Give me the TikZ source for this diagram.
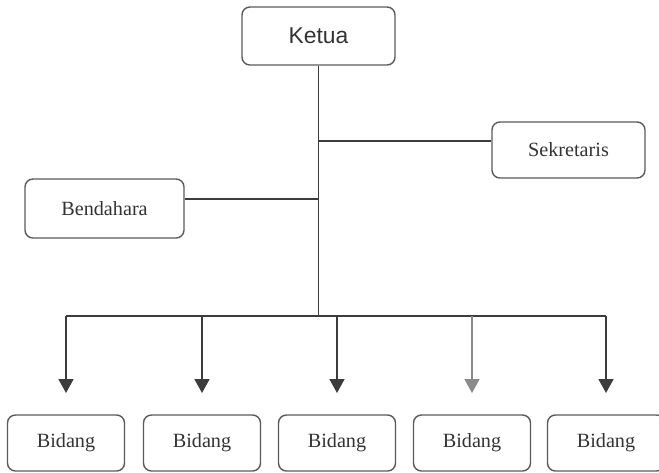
\documentclass[tikz,border=0pt]{standalone}
\usepackage{fontspec}
\setmainfont{Liberation Serif}
\newfontfamily\ketuafont{Liberation Sans}
\usepackage{xcolor}
\usepackage{tikz}
\usetikzlibrary{positioning, arrows.meta, calc}
\definecolor{linegray}{HTML}{3C3C3C}
\definecolor{boxgray}{HTML}{5A5A5A}
\definecolor{textgray}{HTML}{333333}
\definecolor{palegray}{HTML}{8A8A8A}

\begin{document}
\begin{tikzpicture}[font=\fontsize{11.5}{13}\selectfont,
  unitbox/.style={draw=boxgray, line width=0.8pt, rounded corners=4.5pt, text=textgray, inner sep=0pt},
  link/.style={linegray, line width=1pt},
  down/.style={link, -{Triangle[width=3mm, length=2.8mm]}}]
  \useasboundingbox (0,0) rectangle (13.18,-9.46);
  % top
  \node[unitbox, minimum width=3.06cm, minimum height=1.16cm, font=\ketuafont\fontsize{13}{15}\selectfont] (ketua) at (6.37,-0.72) {Ketua};
  % staff
  \node[unitbox, minimum width=3.06cm, minimum height=1.12cm] (sekretaris) at (11.37,-3.0) {Sekretaris};
  \node[unitbox, minimum width=3.18cm, minimum height=1.18cm] (bendahara) at (2.09,-4.17) {Bendahara};
  % bottom row
  \foreach \i/\x in {1/1.32, 2/4.04, 3/6.74, 4/9.44, 5/12.12} {
    \node[unitbox, minimum width=2.34cm, minimum height=1.12cm] (bidang-\i) at (\x,-8.86) {Bidang};
    \coordinate (bus-\i) at (\x,-6.32);
    \coordinate (tip-\i) at (\x,-7.86);
  }
  % joints on the trunk
  \coordinate (j-sek) at (ketua.south |- 0,-2.82);
  \coordinate (j-ben) at (ketua.south |- 0,-3.98);
  \coordinate (j-bus) at (ketua.south |- bus-1);
  \draw[link] (ketua.south) -- (j-bus);
  \draw[link] (j-sek) -- (j-sek -| sekretaris.west);
  \draw[link] (j-ben) -- (j-ben -| bendahara.east);
  \draw[link] (bus-1) -- (bus-5);
  \foreach \i in {1,2,3,5} {
    \draw[down] (bus-\i) -- (tip-\i);
  }
  \draw[down, palegray] (bus-4) -- (tip-4);
\end{tikzpicture}
\end{document}
